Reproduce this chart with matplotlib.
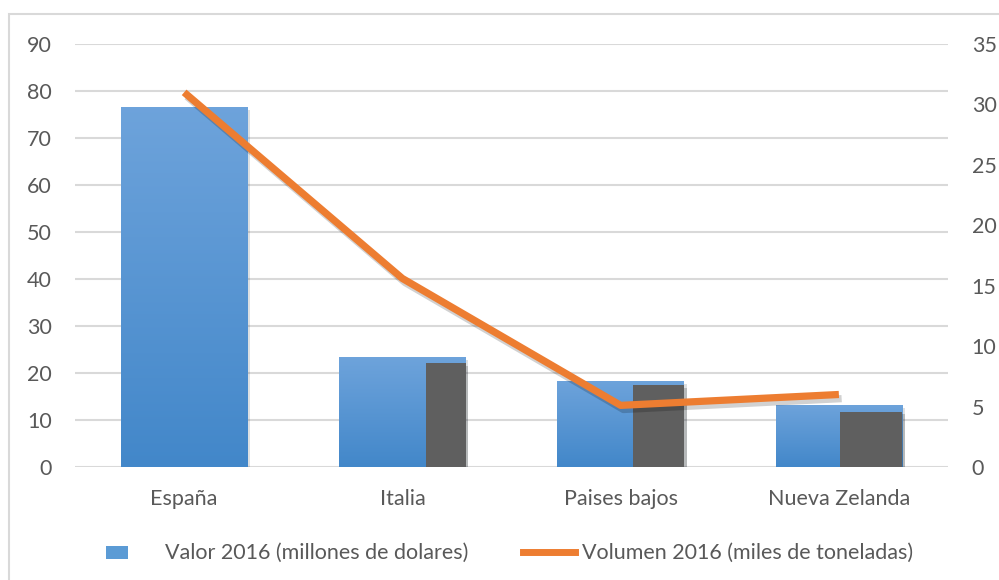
import numpy as np
import matplotlib
matplotlib.use('Agg')
import matplotlib.pyplot as plt
import matplotlib.patheffects as pe
from matplotlib.patches import Rectangle
from matplotlib.lines import Line2D

# Datos
paises = ['España', 'Italia', 'Paises bajos', 'Nueva Zelanda']
valor_2016 = [76.6, 23.4, 18.3, 13.2]        # millones de dolares (eje izq.)
volumen_2016 = [31.0, 15.6, 5.1, 6.0]        # miles de toneladas (eje der.)
sombra = [0, 22.1, 17.4, 11.8]               # bloque gris detras de las barras
left_ticks = list(range(0, 91, 10))
right_ticks = list(range(0, 36, 5))

TXT = '#595959'
GRID = '#D9D9D9'
NARANJA = '#ED7D31'
GRIS = '#5F5F5F'
FS = 15.5
plt.rcParams['font.family'] = ['Lato', 'DejaVu Sans']

fig = plt.figure(figsize=(9.99, 5.8), dpi=100)
ax = fig.add_axes([75 / 999, 113 / 580, 873 / 999, 423 / 580])
ax2 = ax.twinx()

# marco exterior del grafico
fig.add_artist(Rectangle((9 / 999, -0.01), 1.0, 1 - 14 / 580 + 0.01, transform=fig.transFigure,
                         fill=False, edgecolor='#D9D9D9', linewidth=1.5))

x = np.arange(len(paises))
ancho = 0.58
ax.set_xlim(-0.5, len(paises) - 0.5)
ax.set_ylim(0, 90)
ax2.set_ylim(0, 35)

for v in left_ticks:
    ax.axhline(v, color=GRID, linewidth=1.5, zorder=0)

# gradiente azul para las barras
grad = np.linspace(0, 1, 256).reshape(-1, 1)
top = np.array([0.43, 0.64, 0.86])
bottom = np.array([0.26, 0.53, 0.79])
img = top + (bottom - top) * grad
img = img.reshape(256, 1, 3)

sombra_frac = [0, 0.31, 0.40, 0.49]  # parte derecha tapada por el bloque gris
for i, (xi, v) in enumerate(zip(x, valor_2016)):
    x0 = xi - ancho / 2
    rect = Rectangle((x0, 0), ancho, v, facecolor='#5B9BD5', edgecolor='none', zorder=2,
                     path_effects=[pe.SimplePatchShadow(offset=(2, -2), alpha=0.15), pe.Normal()])
    ax.add_patch(rect)
    im = ax.imshow(img, extent=[x0, x0 + ancho, 0, v], aspect='auto', zorder=2.1, origin='upper')
    im.set_clip_path(rect)
    if sombra[i] > 0:
        w = ancho * sombra_frac[i]
        g = Rectangle((x0 + ancho - w, 0), w, sombra[i], facecolor=GRIS, edgecolor='none',
                      zorder=2.2,
                      path_effects=[pe.SimplePatchShadow(offset=(2, -2), alpha=0.2), pe.Normal()])
        ax.add_patch(g)

ax.set_xlim(-0.5, len(paises) - 0.5)
ax.set_ylim(0, 90)

ax2.plot(x, volumen_2016, color=NARANJA, linewidth=5.2, solid_capstyle='butt', zorder=3,
         path_effects=[pe.SimpleLineShadow(offset=(2, -3), alpha=0.18), pe.Normal()])

for a in (ax, ax2):
    for s in a.spines.values():
        s.set_visible(False)
    a.tick_params(length=0, colors=TXT, labelsize=FS)

ax.set_yticks(left_ticks)
ax.set_yticklabels([str(v) for v in left_ticks])
ax.tick_params(axis='y', pad=16.5)
ax2.set_yticks(right_ticks)
ax2.set_yticklabels([str(v) for v in right_ticks])
ax2.tick_params(axis='y', pad=17)
ax.set_xticks(x)
ax.set_xticklabels(paises)
ax.tick_params(axis='x', pad=16)

# leyenda
fig.add_artist(Rectangle((106 / 999, 1 - 559 / 580), 22 / 999, 13 / 580, transform=fig.transFigure,
                         facecolor='#5B9BD5', edgecolor='none'))
fig.text(165 / 999, 1 - 553 / 580, 'Valor 2016 (millones de dolares)', color=TXT, fontsize=FS,
         va='center', ha='left')
fig.add_artist(Line2D([523 / 999, 575 / 999], [1 - 552 / 580, 1 - 552 / 580], transform=fig.transFigure,
                      color=NARANJA, linewidth=5))
fig.text(582 / 999, 1 - 553 / 580, 'Volumen 2016 (miles de toneladas)', color=TXT, fontsize=FS,
         va='center', ha='left')

fig.savefig('out.png', dpi=100)
